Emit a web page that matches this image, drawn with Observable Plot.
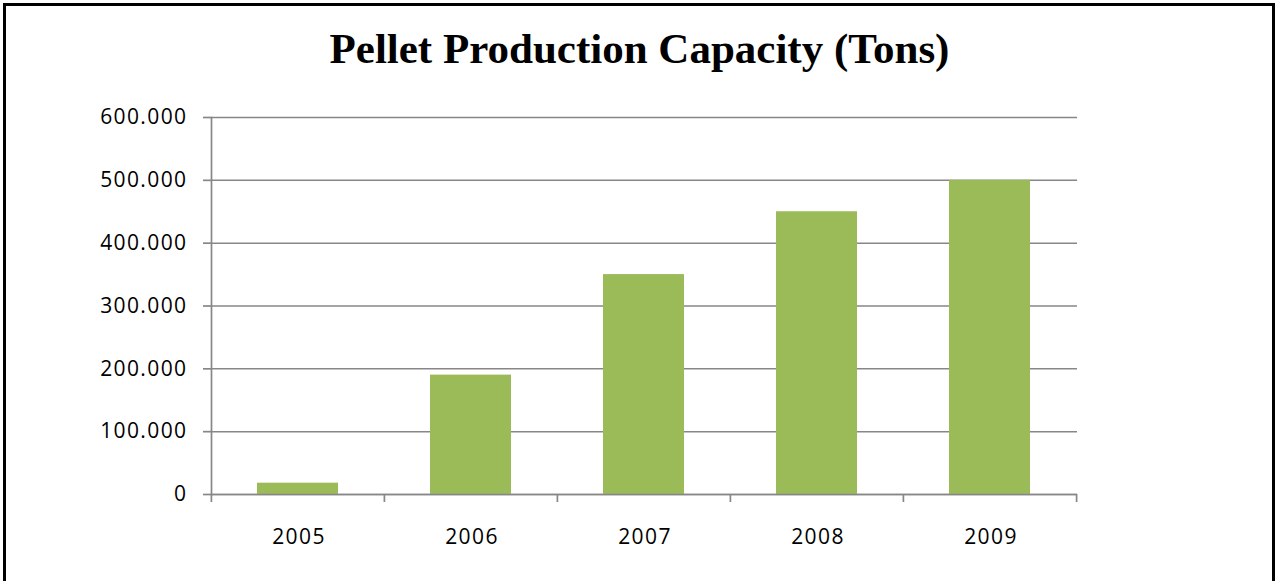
<!DOCTYPE html>
<html>
<head>
<meta charset="utf-8">
<script src="https://cdn.jsdelivr.net/npm/d3@7"></script>
<script src="https://cdn.jsdelivr.net/npm/@observablehq/plot@0.6"></script>
<style>
  html, body { margin: 0; padding: 0; background: #fff; }
  #wrap { position: relative; width: 1275px; height: 581px; overflow: hidden; background: #fff; }
  #frame { position: absolute; left: 3px; top: 3px; width: 1266px; height: 640px; border: 3px solid #000; }
  #title { position: absolute; left: 0; top: 24px; width: 1279px; text-align: center; line-height: normal;
           font-family: "Liberation Serif", "Times New Roman", serif; font-weight: bold; font-size: 43px; color: #000; }
  #chart { position: absolute; left: 0; top: 0; }
  #chart svg text { letter-spacing: 1.4px; }
</style>
</head>
<body>
<div id="wrap">
  <div id="frame"></div>
  <div id="title">Pellet Production Capacity (Tons)</div>
  <div id="chart"></div>
</div>
<script>
const years = ["2005", "2006", "2007", "2008", "2009"];
const capacity = [18000, 190000, 350000, 450000, 500000];
const yTicks = [0, 100000, 200000, 300000, 400000, 500000, 600000];

const data = years.map((y, i) => ({year: y, value: capacity[i]}));
const locale = d3.formatLocale({decimal: ",", thousands: ".", grouping: [3], currency: ["", ""]});
const fmt = locale.format(",d");

const W = 1275, H = 581;
const mL = 211, mR = 198, mT = 117, mB = 87;
const step = (W - mL - mR) / years.length;
const gridColor = "#878787";
const font = "'Open Sans', Lato, sans-serif";

const plot = Plot.plot({
  width: W,
  height: H,
  marginLeft: mL,
  marginRight: mR,
  marginTop: mT,
  marginBottom: mB,
  style: {background: "transparent", fontFamily: font, fontSize: "21px", color: "#000", overflow: "visible"},
  x: {domain: years, paddingInner: 0.53, paddingOuter: 0.265, label: null},
  y: {domain: [0, 600000], label: null},
  marks: [
    Plot.ruleY(yTicks, {stroke: gridColor, strokeWidth: 1.5}),
    Plot.barY(data, {x: "year", y: "value", fill: "#9BBB59"}),
    Plot.ruleY([0], {stroke: gridColor, strokeWidth: 1.7}),
    Plot.frame({anchor: "left", stroke: gridColor, strokeWidth: 1.7}),
    // category boundary ticks below the axis
    Plot.ruleX(years, {x: d => d, y1: 0, y2: 0, dx: -step / 2, insetBottom: -8, stroke: gridColor, strokeWidth: 1.7}),
    Plot.ruleX([years[years.length - 1]], {x: d => d, y1: 0, y2: 0, dx: step / 2, insetBottom: -8, stroke: gridColor, strokeWidth: 1.7}),
    Plot.axisY(yTicks, {tickSize: 8, tickPadding: 16, tickFormat: fmt, stroke: gridColor, strokeWidth: 1.7, fill: "#000", fontSize: 21, label: null}),
    Plot.axisX({tickSize: 0, tickPadding: 35, fill: "#000", fontSize: 21, label: null, dx: 1})
  ]
});
document.getElementById("chart").appendChild(plot);
</script>
</body>
</html>
